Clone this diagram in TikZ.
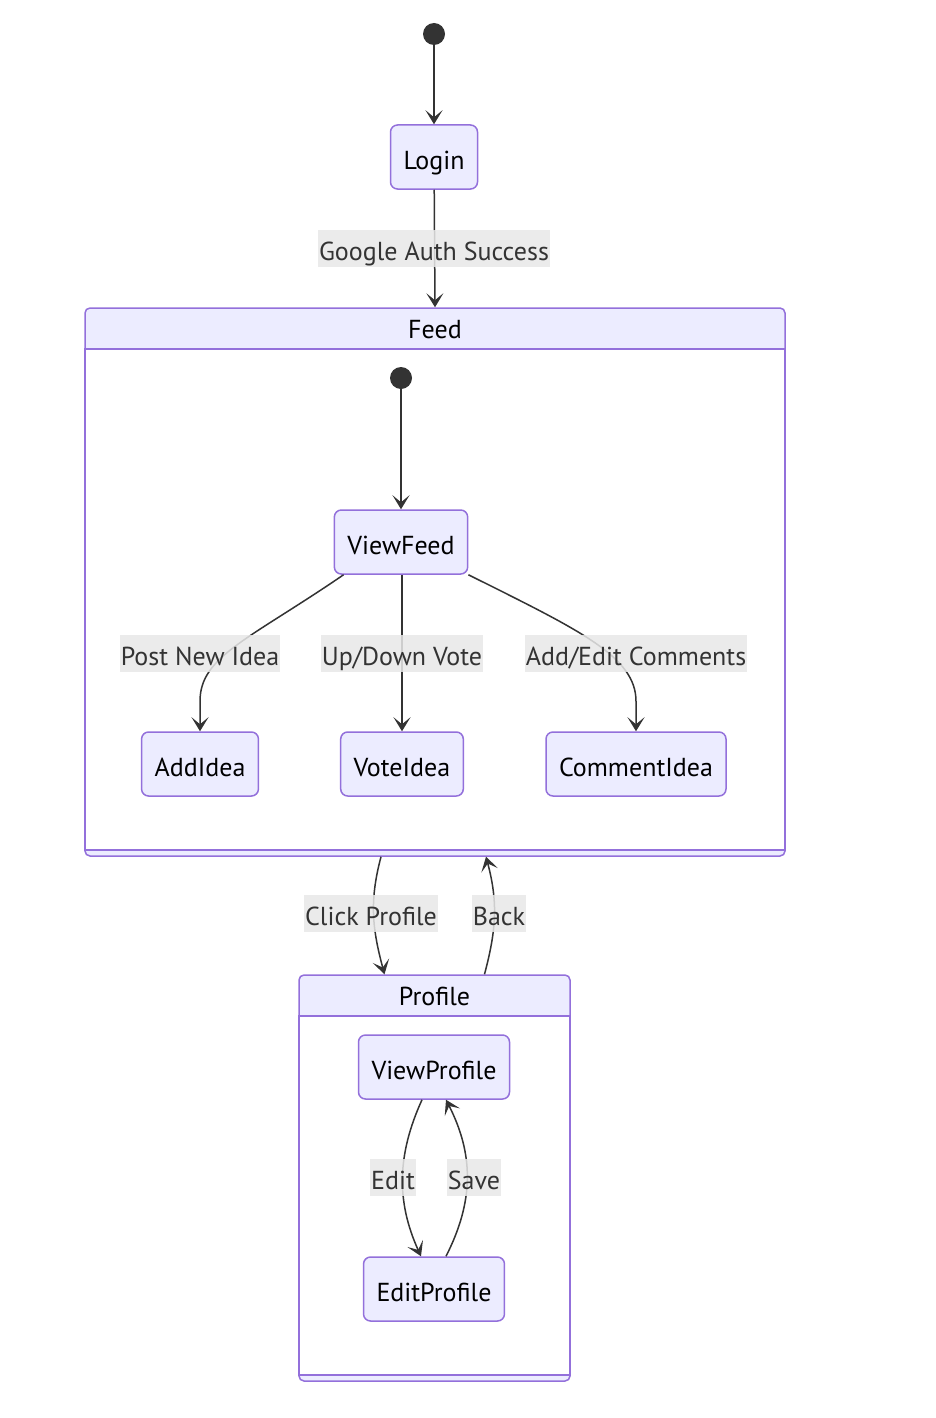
\documentclass[tikz,border=0pt]{standalone}
\usepackage{fontspec}
\setmainfont{PT Sans}
\usetikzlibrary{arrows.meta}

\definecolor{boxfill}{HTML}{ECECFF}
\definecolor{boxline}{HTML}{9370DB}
\definecolor{ink}{HTML}{333333}
\definecolor{labelbg}{HTML}{E8E8E8}

\tikzset{
    state/.style = {draw = boxline, fill = boxfill, line width = 1.5pt, rounded corners = 7pt,
        minimum height = 64pt, inner xsep = 13pt, text height = 24pt, text depth = 0pt,
        font = \fontsize{26}{30}\selectfont, text = black},
    elabel/.style = {fill = labelbg, fill opacity = 0.85, text opacity = 1, text = ink,
        inner xsep = 1pt, inner ysep = 0pt, minimum height = 37pt, text height = 24pt, text depth = 0pt,
        font = \fontsize{26}{30}\selectfont},
    startdot/.style = {circle, fill = ink, minimum size = 22pt, inner sep = 0pt},
    trans/.style = {draw = ink, line width = 1.5pt, -{Stealth[length = 14pt, width = 17pt, inset = 7pt]}},
    cluster/.style = {draw = boxline, fill = boxfill, line width = 1.5pt, rounded corners = 5pt},
    ctitle/.style = {font = \fontsize{26}{30}\selectfont, text = black, text height = 24pt, text depth = 0pt},
}

\begin{document}
\begin{tikzpicture}[x = 1pt, y = -1pt]
    \useasboundingbox (0, 0) rectangle (936, 1418);

    % composite states
    \node[cluster, minimum width = 700pt, minimum height = 548pt] (feed) at (435, 582) {};
    \draw[draw = boxline, fill = white, line width = 1.5pt] (85, 349) rectangle (785, 850);
    \node[ctitle] (feedtitle) at (435, 326) {Feed};

    \node[cluster, minimum width = 271pt, minimum height = 406pt] (prof) at (434.5, 1178) {};
    \draw[draw = boxline, fill = white, line width = 1.5pt] (299, 1016) rectangle (570, 1375);
    \node[ctitle] (proftitle) at (434.5, 993) {Profile};

    % states
    \node[startdot] (start) at (434, 34) {};
    \node[state] (login) at (434, 157) {Login};

    \node[startdot] (fstart) at (401, 378) {};
    \node[state] (vfeed) at (401, 542) {ViewFeed};
    \node[state] (addidea) at (200, 764) {AddIdea};
    \node[state] (voteidea) at (402, 764) {VoteIdea};
    \node[state] (commentidea) at (636, 764) {CommentIdea};

    \node[state] (vprof) at (434, 1067) {ViewProfile};
    \node[state] (eprof) at (434, 1289) {EditProfile};

    % transitions
    \draw[trans] (start) -- (login);
    \draw[trans] (login) -- (feed.north);
    \draw[trans] (fstart) -- (vfeed);
    \draw[trans] ([xshift = 10pt]vfeed.south west) .. controls +(-95, 65) and +(0, -45) .. ([yshift = 30pt]addidea.north) -- (addidea.north);
    \draw[trans] (vfeed.south -| voteidea.north) -- (voteidea.north);
    \draw[trans] (vfeed.south east) .. controls +(110, 55) and +(0, -45) .. ([yshift = 30pt]commentidea.north) -- (commentidea.north);

    \draw[trans] ([xshift = -54pt]feed.south) .. controls +(-12, 45) and +(-12, -45) .. ([xshift = -50pt]prof.north);
    \draw[trans] ([xshift = 50pt]prof.north) .. controls +(12, -45) and +(12, 45) .. ([xshift = 51pt]feed.south);

    \draw[trans] ([xshift = -12pt]vprof.south) .. controls +(-25, 55) and +(-25, -55) .. ([xshift = -13pt]eprof.north);
    \draw[trans] ([xshift = 12pt]eprof.north) .. controls +(28, -55) and +(28, 55) .. ([xshift = 12pt]vprof.south);

    % transition labels
    \node[elabel] (lauth) at (434, 248) {Google Auth Success};
    \node[elabel] (lpost) at (200, 653) {Post New Idea};
    \node[elabel] (lvote) at (402, 653) {Up/Down Vote};
    \node[elabel] (lcomm) at (636, 653) {Add/Edit Comments};
    \node[elabel] (lclick) at (371, 913) {Click Profile};
    \node[elabel] (lback) at (499, 913) {Back};
    \node[elabel] (ledit) at (393, 1177) {Edit};
    \node[elabel] (lsave) at (474, 1177) {Save};

\end{tikzpicture}
\end{document}
